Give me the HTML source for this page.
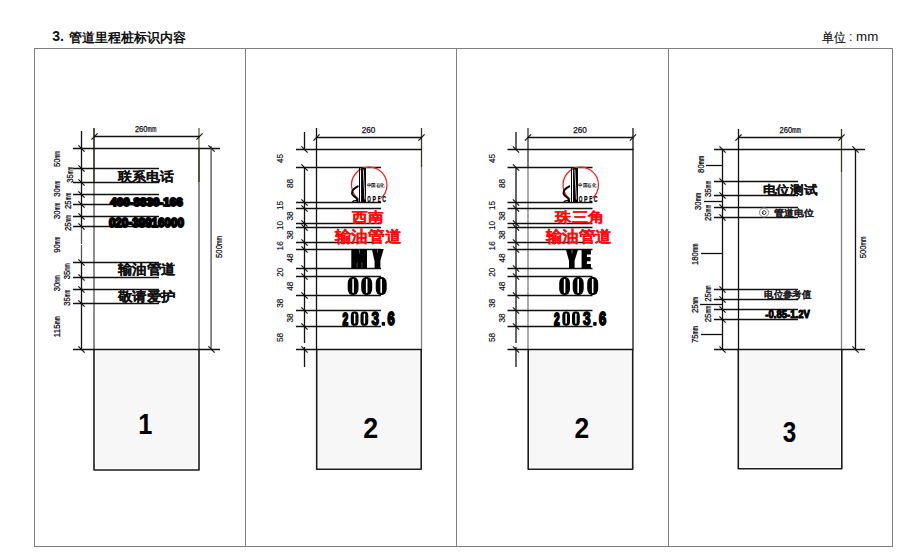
<!DOCTYPE html><html><head><meta charset="utf-8"><style>
html,body{margin:0;padding:0;background:#fff;width:922px;height:560px;overflow:hidden}
svg{display:block;font-family:"Liberation Sans",sans-serif}
</style></head><body>
<svg width="922" height="560" viewBox="0 0 922 560">
<text x="52.2" y="41.4" font-size="14" font-weight="bold" fill="#111">3.</text>
<text x="849" y="41" font-size="12.5" fill="#111">:</text>
<text x="856.1" y="41" font-size="13.3" fill="#111">mm</text>
<g shape-rendering="crispEdges">
<rect x="34.5" y="48.5" width="858" height="498" fill="none" stroke="#7f7f7f" stroke-width="1"/>
<line x1="245.5" y1="48" x2="245.5" y2="546" stroke="#7f7f7f" stroke-width="1"/>
<line x1="456.5" y1="48" x2="456.5" y2="546" stroke="#7f7f7f" stroke-width="1"/>
<line x1="668.5" y1="48" x2="668.5" y2="546" stroke="#7f7f7f" stroke-width="1"/>
</g>
<g>
</g>
<rect x="95.8" y="351" width="101.4" height="117.2" fill="#f7f7f7"/>
<path d="M94.0 349 L94.0 470.0 L199.0 470.0 L199.0 349" fill="none" stroke="#1c1c1c" stroke-width="1.6" stroke-linejoin="round"/>
<g>
<line x1="94" y1="128" x2="94" y2="182" stroke="#2a2618" stroke-width="1.6" shape-rendering="geometricPrecision"/>
<line x1="94" y1="182" x2="94" y2="349" stroke="#707070" stroke-width="1.6" shape-rendering="geometricPrecision"/>
<line x1="199" y1="128" x2="199" y2="148" stroke="#807c66" stroke-width="1.6" shape-rendering="geometricPrecision"/>
<line x1="199" y1="148" x2="199" y2="182" stroke="#2a2618" stroke-width="1.6" shape-rendering="geometricPrecision"/>
<line x1="199" y1="182" x2="199" y2="349" stroke="#707070" stroke-width="1.6" shape-rendering="geometricPrecision"/>
<line x1="94" y1="136.5" x2="200" y2="136.5" stroke="#111" stroke-width="1.3"/>
<line x1="73" y1="148.5" x2="220" y2="148.5" stroke="#111" stroke-width="1.3"/>
<line x1="73" y1="349.5" x2="220" y2="349.5" stroke="#111" stroke-width="1.3"/>
<line x1="81.5" y1="131" x2="81.5" y2="227" stroke="#111" stroke-width="1.3"/>
<line x1="81.5" y1="227" x2="81.5" y2="244" stroke="#555" stroke-width="1.3"/>
<line x1="81.5" y1="245" x2="81.5" y2="263" stroke="#555" stroke-width="1.3"/>
<line x1="81.5" y1="263" x2="81.5" y2="349" stroke="#111" stroke-width="1.3"/>
<line x1="211.1" y1="146" x2="211.1" y2="349.5" stroke="#707070" stroke-width="1.6" shape-rendering="geometricPrecision"/>
<line x1="73" y1="168.5" x2="159" y2="168.5" stroke="#111" stroke-width="1.3"/>
<line x1="73" y1="182.5" x2="159" y2="182.5" stroke="#111" stroke-width="1.3"/>
<line x1="73" y1="194.5" x2="159" y2="194.5" stroke="#111" stroke-width="1.3"/>
<line x1="73" y1="204.5" x2="159" y2="204.5" stroke="#111" stroke-width="1.3"/>
<line x1="73" y1="216.5" x2="159" y2="216.5" stroke="#111" stroke-width="1.3"/>
<line x1="73" y1="226.5" x2="159" y2="226.5" stroke="#111" stroke-width="1.3"/>
<line x1="73" y1="262.5" x2="159" y2="262.5" stroke="#111" stroke-width="1.3"/>
<line x1="73" y1="277.5" x2="159" y2="277.5" stroke="#111" stroke-width="1.3"/>
<line x1="73" y1="289.5" x2="159" y2="289.5" stroke="#111" stroke-width="1.3"/>
<line x1="73" y1="303.5" x2="159" y2="303.5" stroke="#111" stroke-width="1.3"/>
</g>
<line x1="78.4" y1="145.4" x2="84.6" y2="151.6" stroke="#111" stroke-width="1.15"/>
<line x1="78.4" y1="165.4" x2="84.6" y2="171.6" stroke="#111" stroke-width="1.15"/>
<line x1="78.4" y1="179.4" x2="84.6" y2="185.6" stroke="#111" stroke-width="1.15"/>
<line x1="78.4" y1="191.4" x2="84.6" y2="197.6" stroke="#111" stroke-width="1.15"/>
<line x1="78.4" y1="201.4" x2="84.6" y2="207.6" stroke="#111" stroke-width="1.15"/>
<line x1="78.4" y1="213.4" x2="84.6" y2="219.6" stroke="#111" stroke-width="1.15"/>
<line x1="78.4" y1="223.4" x2="84.6" y2="229.6" stroke="#111" stroke-width="1.15"/>
<line x1="78.4" y1="259.4" x2="84.6" y2="265.6" stroke="#111" stroke-width="1.15"/>
<line x1="78.4" y1="274.4" x2="84.6" y2="280.6" stroke="#111" stroke-width="1.15"/>
<line x1="78.4" y1="286.4" x2="84.6" y2="292.6" stroke="#111" stroke-width="1.15"/>
<line x1="78.4" y1="300.4" x2="84.6" y2="306.6" stroke="#111" stroke-width="1.15"/>
<line x1="78.4" y1="346.4" x2="84.6" y2="352.6" stroke="#111" stroke-width="1.15"/>
<line x1="208.4" y1="145.4" x2="214.6" y2="151.6" stroke="#111" stroke-width="1.15"/>
<line x1="208.4" y1="346.4" x2="214.6" y2="352.6" stroke="#111" stroke-width="1.15"/>
<line x1="91.4" y1="139.6" x2="97.6" y2="133.4" stroke="#111" stroke-width="1.15"/>
<line x1="196.4" y1="139.6" x2="202.6" y2="133.4" stroke="#111" stroke-width="1.15"/>
<text x="134.9" y="132.1" font-size="8.6" textLength="12.60" lengthAdjust="spacingAndGlyphs" fill="#0a0a14" stroke="#0a0a14" stroke-width="0.25">260</text>
<text x="147.50" y="132.1" font-size="8.6" font-weight="bold" textLength="9" lengthAdjust="spacingAndGlyphs" fill="#0a0a14">mm</text>
<g transform="translate(221.9 257.95) rotate(-90)"><text x="0" y="0" font-size="8.4" textLength="12.90" lengthAdjust="spacingAndGlyphs" fill="#0a0a14" stroke="#0a0a14" stroke-width="0.25">500</text><text x="12.90" y="0" font-size="8.4" font-weight="bold" textLength="9.00" lengthAdjust="spacingAndGlyphs" fill="#0a0a14">mm</text></g>
<g transform="translate(60 167.05) rotate(-90)"><text x="0" y="0" font-size="8.4" textLength="8.60" lengthAdjust="spacingAndGlyphs" fill="#0a0a14" stroke="#0a0a14" stroke-width="0.25">50</text><text x="8.60" y="0" font-size="8.4" font-weight="bold" textLength="7.50" lengthAdjust="spacingAndGlyphs" fill="#0a0a14">mm</text></g>
<g transform="translate(60 196.85) rotate(-90)"><text x="0" y="0" font-size="8.4" textLength="8.60" lengthAdjust="spacingAndGlyphs" fill="#0a0a14" stroke="#0a0a14" stroke-width="0.25">30</text><text x="8.60" y="0" font-size="8.4" font-weight="bold" textLength="7.50" lengthAdjust="spacingAndGlyphs" fill="#0a0a14">mm</text></g>
<g transform="translate(60 218.95) rotate(-90)"><text x="0" y="0" font-size="8.4" textLength="8.60" lengthAdjust="spacingAndGlyphs" fill="#0a0a14" stroke="#0a0a14" stroke-width="0.25">30</text><text x="8.60" y="0" font-size="8.4" font-weight="bold" textLength="7.50" lengthAdjust="spacingAndGlyphs" fill="#0a0a14">mm</text></g>
<g transform="translate(59.6 252.85) rotate(-90)"><text x="0" y="0" font-size="8.4" textLength="8.60" lengthAdjust="spacingAndGlyphs" fill="#0a0a14" stroke="#0a0a14" stroke-width="0.25">90</text><text x="8.60" y="0" font-size="8.4" font-weight="bold" textLength="7.50" lengthAdjust="spacingAndGlyphs" fill="#0a0a14">mm</text></g>
<g transform="translate(60.2 291.35) rotate(-90)"><text x="0" y="0" font-size="8.4" textLength="8.60" lengthAdjust="spacingAndGlyphs" fill="#0a0a14" stroke="#0a0a14" stroke-width="0.25">30</text><text x="8.60" y="0" font-size="8.4" font-weight="bold" textLength="7.50" lengthAdjust="spacingAndGlyphs" fill="#0a0a14">mm</text></g>
<g transform="translate(60.3 337.25) rotate(-90)"><text x="0" y="0" font-size="8.4" textLength="12.90" lengthAdjust="spacingAndGlyphs" fill="#0a0a14" stroke="#0a0a14" stroke-width="0.25">115</text><text x="12.90" y="0" font-size="8.4" font-weight="bold" textLength="8.00" lengthAdjust="spacingAndGlyphs" fill="#0a0a14">mm</text></g>
<g transform="translate(73.4 182.85) rotate(-90)"><text x="0" y="0" font-size="8.4" textLength="8.60" lengthAdjust="spacingAndGlyphs" fill="#0a0a14" stroke="#0a0a14" stroke-width="0.25">35</text><text x="8.60" y="0" font-size="8.4" font-weight="bold" textLength="7.50" lengthAdjust="spacingAndGlyphs" fill="#0a0a14">mm</text></g>
<g transform="translate(71.4 208.95) rotate(-90)"><text x="0" y="0" font-size="8.4" textLength="8.60" lengthAdjust="spacingAndGlyphs" fill="#0a0a14" stroke="#0a0a14" stroke-width="0.25">25</text><text x="8.60" y="0" font-size="8.4" font-weight="bold" textLength="7.50" lengthAdjust="spacingAndGlyphs" fill="#0a0a14">mm</text></g>
<g transform="translate(71.4 231.05) rotate(-90)"><text x="0" y="0" font-size="8.4" textLength="8.60" lengthAdjust="spacingAndGlyphs" fill="#0a0a14" stroke="#0a0a14" stroke-width="0.25">25</text><text x="8.60" y="0" font-size="8.4" font-weight="bold" textLength="7.50" lengthAdjust="spacingAndGlyphs" fill="#0a0a14">mm</text></g>
<g transform="translate(69.5 279.25) rotate(-90)"><text x="0" y="0" font-size="8.4" textLength="8.60" lengthAdjust="spacingAndGlyphs" fill="#0a0a14" stroke="#0a0a14" stroke-width="0.25">35</text><text x="8.60" y="0" font-size="8.4" font-weight="bold" textLength="7.50" lengthAdjust="spacingAndGlyphs" fill="#0a0a14">mm</text></g>
<g transform="translate(69.5 305.75) rotate(-90)"><text x="0" y="0" font-size="8.4" textLength="8.60" lengthAdjust="spacingAndGlyphs" fill="#0a0a14" stroke="#0a0a14" stroke-width="0.25">35</text><text x="8.60" y="0" font-size="8.4" font-weight="bold" textLength="7.50" lengthAdjust="spacingAndGlyphs" fill="#0a0a14">mm</text></g>
<g transform="translate(0 0)">
<g>
</g>
<rect x="318.5" y="351" width="100.9" height="116.50000000000001" fill="#f7f7f7"/>
<path d="M316.7 349 L316.7 469.3 L421.2 469.3 L421.2 349" fill="none" stroke="#1c1c1c" stroke-width="1.6" stroke-linejoin="round"/>
<g>
<line x1="316.5" y1="128" x2="316.5" y2="349" stroke="#111" stroke-width="1.3"/>
<line x1="421.5" y1="128" x2="421.5" y2="167" stroke="#3a3626" stroke-width="1.3"/>
<line x1="421.5" y1="167" x2="421.5" y2="349" stroke="#7f7f7f" stroke-width="1.3"/>
<line x1="316" y1="137.5" x2="422" y2="137.5" stroke="#111" stroke-width="1.3"/>
<line x1="296" y1="149.5" x2="422" y2="149.5" stroke="#111" stroke-width="1.3"/>
<line x1="296" y1="349.5" x2="422" y2="349.5" stroke="#111" stroke-width="1.3"/>
<line x1="304.5" y1="132" x2="304.5" y2="149.5" stroke="#111" stroke-width="1.3"/>
<line x1="304.5" y1="167" x2="304.5" y2="343" stroke="#111" stroke-width="1.3"/>
<line x1="304.5" y1="347" x2="304.5" y2="367" stroke="#111" stroke-width="1.3"/>
<line x1="296" y1="167.5" x2="381" y2="167.5" stroke="#111" stroke-width="1.3"/>
<line x1="296" y1="202.5" x2="381" y2="202.5" stroke="#111" stroke-width="1.3"/>
<line x1="296" y1="208.5" x2="381" y2="208.5" stroke="#111" stroke-width="1.3"/>
<line x1="296" y1="223.5" x2="381" y2="223.5" stroke="#111" stroke-width="1.3"/>
<line x1="296" y1="227.5" x2="381" y2="227.5" stroke="#111" stroke-width="1.3"/>
<line x1="296" y1="242.5" x2="381" y2="242.5" stroke="#111" stroke-width="1.3"/>
<line x1="296" y1="249.5" x2="381" y2="249.5" stroke="#111" stroke-width="1.3"/>
<line x1="296" y1="268.5" x2="381" y2="268.5" stroke="#111" stroke-width="1.3"/>
<line x1="296" y1="276.5" x2="381" y2="276.5" stroke="#111" stroke-width="1.3"/>
<line x1="296" y1="295.5" x2="381" y2="295.5" stroke="#111" stroke-width="1.3"/>
<line x1="296" y1="310.5" x2="381" y2="310.5" stroke="#111" stroke-width="1.3"/>
<line x1="296" y1="326.5" x2="381" y2="326.5" stroke="#111" stroke-width="1.3"/>
</g>
<line x1="301.4" y1="146.4" x2="307.6" y2="152.6" stroke="#111" stroke-width="1.15"/>
<line x1="301.4" y1="164.4" x2="307.6" y2="170.6" stroke="#111" stroke-width="1.15"/>
<line x1="301.4" y1="199.4" x2="307.6" y2="205.6" stroke="#111" stroke-width="1.15"/>
<line x1="301.4" y1="205.4" x2="307.6" y2="211.6" stroke="#111" stroke-width="1.15"/>
<line x1="301.4" y1="220.4" x2="307.6" y2="226.6" stroke="#111" stroke-width="1.15"/>
<line x1="301.4" y1="224.4" x2="307.6" y2="230.6" stroke="#111" stroke-width="1.15"/>
<line x1="301.4" y1="239.4" x2="307.6" y2="245.6" stroke="#111" stroke-width="1.15"/>
<line x1="301.4" y1="246.4" x2="307.6" y2="252.6" stroke="#111" stroke-width="1.15"/>
<line x1="301.4" y1="265.4" x2="307.6" y2="271.6" stroke="#111" stroke-width="1.15"/>
<line x1="301.4" y1="273.4" x2="307.6" y2="279.6" stroke="#111" stroke-width="1.15"/>
<line x1="301.4" y1="292.4" x2="307.6" y2="298.6" stroke="#111" stroke-width="1.15"/>
<line x1="301.4" y1="307.4" x2="307.6" y2="313.6" stroke="#111" stroke-width="1.15"/>
<line x1="301.4" y1="323.4" x2="307.6" y2="329.6" stroke="#111" stroke-width="1.15"/>
<line x1="301.4" y1="346.4" x2="307.6" y2="352.6" stroke="#111" stroke-width="1.15"/>
<line x1="313.4" y1="140.6" x2="319.6" y2="134.4" stroke="#111" stroke-width="1.15"/>
<line x1="418.4" y1="140.6" x2="424.6" y2="134.4" stroke="#111" stroke-width="1.15"/>
<text x="361.8" y="132.9" font-size="8.6" textLength="13.50" lengthAdjust="spacingAndGlyphs" fill="#0a0a14" stroke="#0a0a14" stroke-width="0.25">260</text>
<g transform="translate(283.1 163.10) rotate(-90)"><text x="0" y="0" font-size="8.8" textLength="9.20" lengthAdjust="spacingAndGlyphs" fill="#0a0a14" stroke="#0a0a14" stroke-width="0.15">45</text></g>
<g transform="translate(283.1 210.10) rotate(-90)"><text x="0" y="0" font-size="8.8" textLength="9.20" lengthAdjust="spacingAndGlyphs" fill="#0a0a14" stroke="#0a0a14" stroke-width="0.15">15</text></g>
<g transform="translate(283.1 230.00) rotate(-90)"><text x="0" y="0" font-size="8.8" textLength="9.20" lengthAdjust="spacingAndGlyphs" fill="#0a0a14" stroke="#0a0a14" stroke-width="0.15">10</text></g>
<g transform="translate(283.1 250.40) rotate(-90)"><text x="0" y="0" font-size="8.8" textLength="9.20" lengthAdjust="spacingAndGlyphs" fill="#0a0a14" stroke="#0a0a14" stroke-width="0.15">16</text></g>
<g transform="translate(283.1 276.80) rotate(-90)"><text x="0" y="0" font-size="8.8" textLength="9.20" lengthAdjust="spacingAndGlyphs" fill="#0a0a14" stroke="#0a0a14" stroke-width="0.15">20</text></g>
<g transform="translate(283.1 307.80) rotate(-90)"><text x="0" y="0" font-size="8.8" textLength="9.20" lengthAdjust="spacingAndGlyphs" fill="#0a0a14" stroke="#0a0a14" stroke-width="0.15">38</text></g>
<g transform="translate(283.1 342.00) rotate(-90)"><text x="0" y="0" font-size="8.8" textLength="9.20" lengthAdjust="spacingAndGlyphs" fill="#0a0a14" stroke="#0a0a14" stroke-width="0.15">58</text></g>
<g transform="translate(293.4 188.10) rotate(-90)"><text x="0" y="0" font-size="8.8" textLength="9.20" lengthAdjust="spacingAndGlyphs" fill="#0a0a14" stroke="#0a0a14" stroke-width="0.15">88</text></g>
<g transform="translate(293.4 220.60) rotate(-90)"><text x="0" y="0" font-size="8.8" textLength="9.20" lengthAdjust="spacingAndGlyphs" fill="#0a0a14" stroke="#0a0a14" stroke-width="0.15">38</text></g>
<g transform="translate(293.4 239.60) rotate(-90)"><text x="0" y="0" font-size="8.8" textLength="9.20" lengthAdjust="spacingAndGlyphs" fill="#0a0a14" stroke="#0a0a14" stroke-width="0.15">38</text></g>
<g transform="translate(293.4 262.60) rotate(-90)"><text x="0" y="0" font-size="8.8" textLength="9.20" lengthAdjust="spacingAndGlyphs" fill="#0a0a14" stroke="#0a0a14" stroke-width="0.15">48</text></g>
<g transform="translate(293.4 290.80) rotate(-90)"><text x="0" y="0" font-size="8.8" textLength="9.20" lengthAdjust="spacingAndGlyphs" fill="#0a0a14" stroke="#0a0a14" stroke-width="0.15">48</text></g>
<g transform="translate(293.4 322.60) rotate(-90)"><text x="0" y="0" font-size="8.8" textLength="9.20" lengthAdjust="spacingAndGlyphs" fill="#0a0a14" stroke="#0a0a14" stroke-width="0.15">38</text></g>
<path d="M 358.8 199.2 A 17.7 17.7 0 1 1 381.04 198.05" fill="none" stroke="#f52020" stroke-width="1.25"/>
<g shape-rendering="crispEdges"><rect x="359" y="167.5" width="1.2" height="34" fill="#000"/>
<rect x="361" y="167.5" width="1" height="34" fill="#111"/>
<rect x="362" y="167.5" width="4" height="34" fill="#000"/></g>
<line x1="363.3" y1="169.5" x2="364.9" y2="199.5" stroke="#fff" stroke-width="0.8"/>
<path d="M357.8 186.4 C354.5 188 351.6 190.5 352 193.6 C352.4 196.2 356.6 197.2 357.3 199.6 L357.6 201.2" fill="none" stroke="#000" stroke-width="2.0" stroke-linecap="round"/>
<path d="M352.3 201.8 Q354.8 199.8 358.2 201.3" fill="none" stroke="#000" stroke-width="1.3"/>
<text x="367.2" y="202.1" font-size="9.4" font-weight="bold" textLength="3.6" lengthAdjust="spacingAndGlyphs" fill="#000" stroke="#000" stroke-width="0.25">O</text>
<text x="372.5" y="202.1" font-size="9.4" font-weight="bold" textLength="3.5" lengthAdjust="spacingAndGlyphs" fill="#000" stroke="#000" stroke-width="0.25">P</text>
<text x="377.8" y="202.1" font-size="9.4" font-weight="bold" textLength="3.0" lengthAdjust="spacingAndGlyphs" fill="#000" stroke="#000" stroke-width="0.25">E</text>
<text x="382.2" y="202.1" font-size="9.4" font-weight="bold" textLength="3.8" lengthAdjust="spacingAndGlyphs" fill="#000" stroke="#000" stroke-width="0.25">C</text>
<text x="366.6" y="186.5" font-size="5" textLength="18" lengthAdjust="spacingAndGlyphs" fill="#000" stroke="#000" stroke-width="0.12">中国石化</text>
</g>
<g transform="translate(211.5 0)">
<g>
</g>
<rect x="318.5" y="351" width="100.9" height="116.50000000000001" fill="#f7f7f7"/>
<path d="M316.7 349 L316.7 469.3 L421.2 469.3 L421.2 349" fill="none" stroke="#1c1c1c" stroke-width="1.6" stroke-linejoin="round"/>
<g>
<line x1="316.5" y1="128" x2="316.5" y2="167" stroke="#3a3626" stroke-width="1.3"/>
<line x1="316.5" y1="167" x2="316.5" y2="349" stroke="#7f7f7f" stroke-width="1.3"/>
<line x1="421.5" y1="128" x2="421.5" y2="349" stroke="#111" stroke-width="1.3"/>
<line x1="316" y1="137.5" x2="422" y2="137.5" stroke="#111" stroke-width="1.3"/>
<line x1="296" y1="149.5" x2="422" y2="149.5" stroke="#111" stroke-width="1.3"/>
<line x1="296" y1="349.5" x2="422" y2="349.5" stroke="#111" stroke-width="1.3"/>
<line x1="304.5" y1="132" x2="304.5" y2="149.5" stroke="#111" stroke-width="1.3"/>
<line x1="304.5" y1="167" x2="304.5" y2="343" stroke="#111" stroke-width="1.3"/>
<line x1="304.5" y1="347" x2="304.5" y2="367" stroke="#111" stroke-width="1.3"/>
<line x1="296" y1="167.5" x2="381" y2="167.5" stroke="#111" stroke-width="1.3"/>
<line x1="296" y1="202.5" x2="381" y2="202.5" stroke="#111" stroke-width="1.3"/>
<line x1="296" y1="208.5" x2="381" y2="208.5" stroke="#111" stroke-width="1.3"/>
<line x1="296" y1="223.5" x2="381" y2="223.5" stroke="#111" stroke-width="1.3"/>
<line x1="296" y1="227.5" x2="381" y2="227.5" stroke="#111" stroke-width="1.3"/>
<line x1="296" y1="242.5" x2="381" y2="242.5" stroke="#111" stroke-width="1.3"/>
<line x1="296" y1="249.5" x2="381" y2="249.5" stroke="#111" stroke-width="1.3"/>
<line x1="296" y1="268.5" x2="381" y2="268.5" stroke="#111" stroke-width="1.3"/>
<line x1="296" y1="276.5" x2="381" y2="276.5" stroke="#111" stroke-width="1.3"/>
<line x1="296" y1="295.5" x2="381" y2="295.5" stroke="#111" stroke-width="1.3"/>
<line x1="296" y1="310.5" x2="381" y2="310.5" stroke="#111" stroke-width="1.3"/>
<line x1="296" y1="326.5" x2="381" y2="326.5" stroke="#111" stroke-width="1.3"/>
</g>
<line x1="301.4" y1="146.4" x2="307.6" y2="152.6" stroke="#111" stroke-width="1.15"/>
<line x1="301.4" y1="164.4" x2="307.6" y2="170.6" stroke="#111" stroke-width="1.15"/>
<line x1="301.4" y1="199.4" x2="307.6" y2="205.6" stroke="#111" stroke-width="1.15"/>
<line x1="301.4" y1="205.4" x2="307.6" y2="211.6" stroke="#111" stroke-width="1.15"/>
<line x1="301.4" y1="220.4" x2="307.6" y2="226.6" stroke="#111" stroke-width="1.15"/>
<line x1="301.4" y1="224.4" x2="307.6" y2="230.6" stroke="#111" stroke-width="1.15"/>
<line x1="301.4" y1="239.4" x2="307.6" y2="245.6" stroke="#111" stroke-width="1.15"/>
<line x1="301.4" y1="246.4" x2="307.6" y2="252.6" stroke="#111" stroke-width="1.15"/>
<line x1="301.4" y1="265.4" x2="307.6" y2="271.6" stroke="#111" stroke-width="1.15"/>
<line x1="301.4" y1="273.4" x2="307.6" y2="279.6" stroke="#111" stroke-width="1.15"/>
<line x1="301.4" y1="292.4" x2="307.6" y2="298.6" stroke="#111" stroke-width="1.15"/>
<line x1="301.4" y1="307.4" x2="307.6" y2="313.6" stroke="#111" stroke-width="1.15"/>
<line x1="301.4" y1="323.4" x2="307.6" y2="329.6" stroke="#111" stroke-width="1.15"/>
<line x1="301.4" y1="346.4" x2="307.6" y2="352.6" stroke="#111" stroke-width="1.15"/>
<line x1="313.4" y1="140.6" x2="319.6" y2="134.4" stroke="#111" stroke-width="1.15"/>
<line x1="418.4" y1="140.6" x2="424.6" y2="134.4" stroke="#111" stroke-width="1.15"/>
<text x="361.8" y="132.9" font-size="8.6" textLength="13.50" lengthAdjust="spacingAndGlyphs" fill="#0a0a14" stroke="#0a0a14" stroke-width="0.25">260</text>
<g transform="translate(283.1 163.10) rotate(-90)"><text x="0" y="0" font-size="8.8" textLength="9.20" lengthAdjust="spacingAndGlyphs" fill="#0a0a14" stroke="#0a0a14" stroke-width="0.15">45</text></g>
<g transform="translate(283.1 210.10) rotate(-90)"><text x="0" y="0" font-size="8.8" textLength="9.20" lengthAdjust="spacingAndGlyphs" fill="#0a0a14" stroke="#0a0a14" stroke-width="0.15">15</text></g>
<g transform="translate(283.1 230.00) rotate(-90)"><text x="0" y="0" font-size="8.8" textLength="9.20" lengthAdjust="spacingAndGlyphs" fill="#0a0a14" stroke="#0a0a14" stroke-width="0.15">10</text></g>
<g transform="translate(283.1 250.40) rotate(-90)"><text x="0" y="0" font-size="8.8" textLength="9.20" lengthAdjust="spacingAndGlyphs" fill="#0a0a14" stroke="#0a0a14" stroke-width="0.15">16</text></g>
<g transform="translate(283.1 276.80) rotate(-90)"><text x="0" y="0" font-size="8.8" textLength="9.20" lengthAdjust="spacingAndGlyphs" fill="#0a0a14" stroke="#0a0a14" stroke-width="0.15">20</text></g>
<g transform="translate(283.1 307.80) rotate(-90)"><text x="0" y="0" font-size="8.8" textLength="9.20" lengthAdjust="spacingAndGlyphs" fill="#0a0a14" stroke="#0a0a14" stroke-width="0.15">38</text></g>
<g transform="translate(283.1 342.00) rotate(-90)"><text x="0" y="0" font-size="8.8" textLength="9.20" lengthAdjust="spacingAndGlyphs" fill="#0a0a14" stroke="#0a0a14" stroke-width="0.15">58</text></g>
<g transform="translate(293.4 188.10) rotate(-90)"><text x="0" y="0" font-size="8.8" textLength="9.20" lengthAdjust="spacingAndGlyphs" fill="#0a0a14" stroke="#0a0a14" stroke-width="0.15">88</text></g>
<g transform="translate(293.4 220.60) rotate(-90)"><text x="0" y="0" font-size="8.8" textLength="9.20" lengthAdjust="spacingAndGlyphs" fill="#0a0a14" stroke="#0a0a14" stroke-width="0.15">38</text></g>
<g transform="translate(293.4 239.60) rotate(-90)"><text x="0" y="0" font-size="8.8" textLength="9.20" lengthAdjust="spacingAndGlyphs" fill="#0a0a14" stroke="#0a0a14" stroke-width="0.15">38</text></g>
<g transform="translate(293.4 262.60) rotate(-90)"><text x="0" y="0" font-size="8.8" textLength="9.20" lengthAdjust="spacingAndGlyphs" fill="#0a0a14" stroke="#0a0a14" stroke-width="0.15">48</text></g>
<g transform="translate(293.4 290.80) rotate(-90)"><text x="0" y="0" font-size="8.8" textLength="9.20" lengthAdjust="spacingAndGlyphs" fill="#0a0a14" stroke="#0a0a14" stroke-width="0.15">48</text></g>
<g transform="translate(293.4 322.60) rotate(-90)"><text x="0" y="0" font-size="8.8" textLength="9.20" lengthAdjust="spacingAndGlyphs" fill="#0a0a14" stroke="#0a0a14" stroke-width="0.15">38</text></g>
<path d="M 358.8 199.2 A 17.7 17.7 0 1 1 381.04 198.05" fill="none" stroke="#f52020" stroke-width="1.25"/>
<g shape-rendering="crispEdges"><rect x="359" y="167.5" width="1.2" height="34" fill="#000"/>
<rect x="361" y="167.5" width="1" height="34" fill="#111"/>
<rect x="362" y="167.5" width="4" height="34" fill="#000"/></g>
<line x1="363.3" y1="169.5" x2="364.9" y2="199.5" stroke="#fff" stroke-width="0.8"/>
<path d="M357.8 186.4 C354.5 188 351.6 190.5 352 193.6 C352.4 196.2 356.6 197.2 357.3 199.6 L357.6 201.2" fill="none" stroke="#000" stroke-width="2.0" stroke-linecap="round"/>
<path d="M352.3 201.8 Q354.8 199.8 358.2 201.3" fill="none" stroke="#000" stroke-width="1.3"/>
<text x="367.2" y="202.1" font-size="9.4" font-weight="bold" textLength="3.6" lengthAdjust="spacingAndGlyphs" fill="#000" stroke="#000" stroke-width="0.25">O</text>
<text x="372.5" y="202.1" font-size="9.4" font-weight="bold" textLength="3.5" lengthAdjust="spacingAndGlyphs" fill="#000" stroke="#000" stroke-width="0.25">P</text>
<text x="377.8" y="202.1" font-size="9.4" font-weight="bold" textLength="3.0" lengthAdjust="spacingAndGlyphs" fill="#000" stroke="#000" stroke-width="0.25">E</text>
<text x="382.2" y="202.1" font-size="9.4" font-weight="bold" textLength="3.8" lengthAdjust="spacingAndGlyphs" fill="#000" stroke="#000" stroke-width="0.25">C</text>
<text x="366.6" y="186.5" font-size="5" textLength="18" lengthAdjust="spacingAndGlyphs" fill="#000" stroke="#000" stroke-width="0.12">中国石化</text>
</g>
<g>
</g>
<rect x="740.0999999999999" y="351" width="99.9" height="116.00000000000001" fill="#f7f7f7"/>
<path d="M738.3 349 L738.3 468.8 L841.8 468.8 L841.8 349" fill="none" stroke="#1c1c1c" stroke-width="1.6" stroke-linejoin="round"/>
<g>
<line x1="738.5" y1="129" x2="738.5" y2="349" stroke="#111" stroke-width="1.3"/>
<line x1="841.5" y1="129" x2="841.5" y2="172" stroke="#3a3626" stroke-width="1.3"/>
<line x1="841.5" y1="172" x2="841.5" y2="349" stroke="#7f7f7f" stroke-width="1.3"/>
<line x1="738" y1="137.5" x2="842" y2="137.5" stroke="#111" stroke-width="1.3"/>
<line x1="714" y1="149.5" x2="865" y2="149.5" stroke="#111" stroke-width="1.3"/>
<line x1="714" y1="349.5" x2="865" y2="349.5" stroke="#111" stroke-width="1.3"/>
<line x1="722.5" y1="149" x2="722.5" y2="349" stroke="#111" stroke-width="1.3"/>
<line x1="855.5" y1="149" x2="855.5" y2="349" stroke="#111" stroke-width="1.3"/>
<line x1="714" y1="181.5" x2="798" y2="181.5" stroke="#111" stroke-width="1.3"/>
<line x1="714" y1="195.5" x2="798" y2="195.5" stroke="#111" stroke-width="1.3"/>
<line x1="714" y1="207.5" x2="798" y2="207.5" stroke="#111" stroke-width="1.3"/>
<line x1="714" y1="217.5" x2="798" y2="217.5" stroke="#111" stroke-width="1.3"/>
<line x1="714" y1="289.5" x2="798" y2="289.5" stroke="#111" stroke-width="1.3"/>
<line x1="714" y1="299.5" x2="798" y2="299.5" stroke="#111" stroke-width="1.3"/>
<line x1="714" y1="309.5" x2="798" y2="309.5" stroke="#111" stroke-width="1.3"/>
<line x1="714" y1="319.5" x2="798" y2="319.5" stroke="#111" stroke-width="1.3"/>
<line x1="706" y1="165.5" x2="722" y2="165.5" stroke="#111" stroke-width="1.3"/>
<line x1="704" y1="201.5" x2="722" y2="201.5" stroke="#111" stroke-width="1.3"/>
<line x1="701" y1="253.5" x2="722" y2="253.5" stroke="#111" stroke-width="1.3"/>
<line x1="700" y1="304.5" x2="722" y2="304.5" stroke="#111" stroke-width="1.3"/>
<line x1="701" y1="334.5" x2="722" y2="334.5" stroke="#111" stroke-width="1.3"/>
</g>
<line x1="719.4" y1="146.4" x2="725.6" y2="152.6" stroke="#111" stroke-width="1.15"/>
<line x1="719.4" y1="178.4" x2="725.6" y2="184.6" stroke="#111" stroke-width="1.15"/>
<line x1="719.4" y1="192.4" x2="725.6" y2="198.6" stroke="#111" stroke-width="1.15"/>
<line x1="719.4" y1="204.4" x2="725.6" y2="210.6" stroke="#111" stroke-width="1.15"/>
<line x1="719.4" y1="214.4" x2="725.6" y2="220.6" stroke="#111" stroke-width="1.15"/>
<line x1="719.4" y1="286.4" x2="725.6" y2="292.6" stroke="#111" stroke-width="1.15"/>
<line x1="719.4" y1="296.4" x2="725.6" y2="302.6" stroke="#111" stroke-width="1.15"/>
<line x1="719.4" y1="306.4" x2="725.6" y2="312.6" stroke="#111" stroke-width="1.15"/>
<line x1="719.4" y1="316.4" x2="725.6" y2="322.6" stroke="#111" stroke-width="1.15"/>
<line x1="719.4" y1="346.4" x2="725.6" y2="352.6" stroke="#111" stroke-width="1.15"/>
<line x1="852.4" y1="146.4" x2="858.6" y2="152.6" stroke="#111" stroke-width="1.15"/>
<line x1="852.4" y1="346.4" x2="858.6" y2="352.6" stroke="#111" stroke-width="1.15"/>
<line x1="735.4" y1="140.6" x2="741.6" y2="134.4" stroke="#111" stroke-width="1.15"/>
<line x1="838.4" y1="140.6" x2="844.6" y2="134.4" stroke="#111" stroke-width="1.15"/>
<text x="779.5" y="133.3" font-size="8.6" textLength="12.60" lengthAdjust="spacingAndGlyphs" fill="#0a0a14" stroke="#0a0a14" stroke-width="0.25">260</text>
<text x="792.10" y="133.3" font-size="8.6" font-weight="bold" textLength="9" lengthAdjust="spacingAndGlyphs" fill="#0a0a14">mm</text>
<g transform="translate(866 258.35) rotate(-90)"><text x="0" y="0" font-size="8.4" textLength="12.90" lengthAdjust="spacingAndGlyphs" fill="#0a0a14" stroke="#0a0a14" stroke-width="0.25">500</text><text x="12.90" y="0" font-size="8.4" font-weight="bold" textLength="9.00" lengthAdjust="spacingAndGlyphs" fill="#0a0a14">mm</text></g>
<g transform="translate(703.6 172.90) rotate(-90)"><text x="0" y="0" font-size="8.4" textLength="8.60" lengthAdjust="spacingAndGlyphs" fill="#0a0a14" stroke="#0a0a14" stroke-width="0.25">80</text><text x="8.60" y="0" font-size="8.4" font-weight="bold" textLength="8.60" lengthAdjust="spacingAndGlyphs" fill="#0a0a14">mm</text></g>
<g transform="translate(701.4 209.95) rotate(-90)"><text x="0" y="0" font-size="8.4" textLength="8.60" lengthAdjust="spacingAndGlyphs" fill="#0a0a14" stroke="#0a0a14" stroke-width="0.25">30</text><text x="8.60" y="0" font-size="8.4" font-weight="bold" textLength="8.50" lengthAdjust="spacingAndGlyphs" fill="#0a0a14">mm</text></g>
<g transform="translate(697.8 265.00) rotate(-90)"><text x="0" y="0" font-size="8.4" textLength="12.90" lengthAdjust="spacingAndGlyphs" fill="#0a0a14" stroke="#0a0a14" stroke-width="0.25">180</text><text x="12.90" y="0" font-size="8.4" font-weight="bold" textLength="8.50" lengthAdjust="spacingAndGlyphs" fill="#0a0a14">mm</text></g>
<g transform="translate(697.8 313.00) rotate(-90)"><text x="0" y="0" font-size="8.4" textLength="8.60" lengthAdjust="spacingAndGlyphs" fill="#0a0a14" stroke="#0a0a14" stroke-width="0.25">25</text><text x="8.60" y="0" font-size="8.4" font-weight="bold" textLength="7.40" lengthAdjust="spacingAndGlyphs" fill="#0a0a14">mm</text></g>
<g transform="translate(697.8 343.00) rotate(-90)"><text x="0" y="0" font-size="8.4" textLength="8.60" lengthAdjust="spacingAndGlyphs" fill="#0a0a14" stroke="#0a0a14" stroke-width="0.25">75</text><text x="8.60" y="0" font-size="8.4" font-weight="bold" textLength="8.40" lengthAdjust="spacingAndGlyphs" fill="#0a0a14">mm</text></g>
<g transform="translate(711.4 197.10) rotate(-90)"><text x="0" y="0" font-size="8.4" textLength="8.60" lengthAdjust="spacingAndGlyphs" fill="#0a0a14" stroke="#0a0a14" stroke-width="0.25">35</text><text x="8.60" y="0" font-size="8.4" font-weight="bold" textLength="7.80" lengthAdjust="spacingAndGlyphs" fill="#0a0a14">mm</text></g>
<g transform="translate(711.4 221.10) rotate(-90)"><text x="0" y="0" font-size="8.4" textLength="8.60" lengthAdjust="spacingAndGlyphs" fill="#0a0a14" stroke="#0a0a14" stroke-width="0.25">25</text><text x="8.60" y="0" font-size="8.4" font-weight="bold" textLength="7.80" lengthAdjust="spacingAndGlyphs" fill="#0a0a14">mm</text></g>
<g transform="translate(711 301.70) rotate(-90)"><text x="0" y="0" font-size="8.4" textLength="8.60" lengthAdjust="spacingAndGlyphs" fill="#0a0a14" stroke="#0a0a14" stroke-width="0.25">25</text><text x="8.60" y="0" font-size="8.4" font-weight="bold" textLength="7.80" lengthAdjust="spacingAndGlyphs" fill="#0a0a14">mm</text></g>
<g transform="translate(711 322.20) rotate(-90)"><text x="0" y="0" font-size="8.4" textLength="8.60" lengthAdjust="spacingAndGlyphs" fill="#0a0a14" stroke="#0a0a14" stroke-width="0.25">25</text><text x="8.60" y="0" font-size="8.4" font-weight="bold" textLength="7.80" lengthAdjust="spacingAndGlyphs" fill="#0a0a14">mm</text></g>
<circle cx="764.0" cy="212.5" r="4.5" fill="none" stroke="#8a8a8a" stroke-width="1.0"/>
<circle cx="764.1" cy="212.6" r="1.9" fill="none" stroke="#2a2a2a" stroke-width="0.9"/>
<circle cx="763.0" cy="212.9" r="0.7" fill="#000"/>
<g transform="translate(0 0)">
<rect x="351.3" y="249.1" width="15.7" height="19.3" fill="#000"/>
<line x1="359.3" y1="249.6" x2="359.3" y2="253.4" stroke="#fff" stroke-width="0.6" opacity="0.8"/>
<path d="M357.3 262.5 Q356.6 265 357.2 267.6 M361.7 262.5 Q362.4 265 361.8 267.6" fill="none" stroke="#fff" stroke-width="0.5" opacity="0.6"/>
<path d="M371.9 249.1 L383.7 249.1 L380.4 260.4 L380.4 268.4 L374.6 268.4 L374.6 261.6 Z" fill="#000"/>
<line x1="377.4" y1="249.6" x2="377.4" y2="252.6" stroke="#fff" stroke-width="0.6" opacity="0.8"/>
</g>
<path d="M565.8 249.2 L578.1 249.2 L574.6 260.8 L574.6 268.2 L569 268.2 L569 260.8 Z" fill="#000"/>
<line x1="572" y1="249.7" x2="572" y2="253.5" stroke="#fff" stroke-width="0.6" opacity="0.8"/>
<path d="M581.6 249.2 L590.9 249.2 L590.9 254.6 L586.9 254.6 L586.9 256.9 L590.6 256.9 L590.6 261.3 L586.9 261.3 L586.9 264.1 L590.9 264.1 L590.9 268.2 L581.6 268.2 Z" fill="#000"/>
<rect x="347.7" y="277.1" width="10.80" height="17.80" rx="4.59" ry="5.94" fill="#000"/>
<rect x="352.30" y="278.85" width="1.6" height="14.3" rx="0.80" ry="0.80" fill="#fff"/>
<rect x="361.2" y="277.1" width="11.00" height="17.80" rx="4.67" ry="6.05" fill="#000"/>
<rect x="365.90" y="278.85" width="1.6" height="14.3" rx="0.80" ry="0.80" fill="#fff"/>
<rect x="375.7" y="277.1" width="11.00" height="17.80" rx="4.67" ry="6.05" fill="#000"/>
<rect x="380.40" y="278.85" width="1.6" height="14.3" rx="0.80" ry="0.80" fill="#fff"/>
<text x="342.40" y="324.80" font-size="17.32" font-weight="bold" textLength="5.70" lengthAdjust="spacingAndGlyphs" fill="#000" stroke="#000" stroke-width="2.0" stroke-linejoin="round">2</text>
<rect x="350.8" y="311.4" width="7.70" height="14.40" rx="3.27" ry="4.23" fill="#000"/>
<rect x="353.90" y="313.55" width="1.5" height="10.1" rx="0.75" ry="0.75" fill="#fff"/>
<rect x="360.5" y="311.4" width="7.80" height="14.40" rx="3.32" ry="4.29" fill="#000"/>
<rect x="363.65" y="313.55" width="1.5" height="10.1" rx="0.75" ry="0.75" fill="#fff"/>
<text x="371.45" y="325.05" font-size="18.02" font-weight="bold" textLength="7.60" lengthAdjust="spacingAndGlyphs" fill="#000" stroke="#000" stroke-width="1.5" stroke-linejoin="round">3</text>
<rect x="381.7" y="321.9" width="3.4" height="3.9" rx="0.6" fill="#000"/>
<text x="387.45" y="324.95" font-size="17.88" font-weight="bold" textLength="7.20" lengthAdjust="spacingAndGlyphs" fill="#000" stroke="#000" stroke-width="1.9" stroke-linejoin="round">6</text>
<rect x="559.2" y="277.1" width="10.80" height="17.80" rx="4.59" ry="5.94" fill="#000"/>
<rect x="563.80" y="278.85" width="1.6" height="14.3" rx="0.80" ry="0.80" fill="#fff"/>
<rect x="572.7" y="277.1" width="11.00" height="17.80" rx="4.67" ry="6.05" fill="#000"/>
<rect x="577.40" y="278.85" width="1.6" height="14.3" rx="0.80" ry="0.80" fill="#fff"/>
<rect x="587.2" y="277.1" width="11.00" height="17.80" rx="4.67" ry="6.05" fill="#000"/>
<rect x="591.90" y="278.85" width="1.6" height="14.3" rx="0.80" ry="0.80" fill="#fff"/>
<text x="553.90" y="324.80" font-size="17.32" font-weight="bold" textLength="5.70" lengthAdjust="spacingAndGlyphs" fill="#000" stroke="#000" stroke-width="2.0" stroke-linejoin="round">2</text>
<rect x="562.3" y="311.4" width="7.70" height="14.40" rx="3.27" ry="4.24" fill="#000"/>
<rect x="565.40" y="313.55" width="1.5" height="10.1" rx="0.75" ry="0.75" fill="#fff"/>
<rect x="572.0" y="311.4" width="7.80" height="14.40" rx="3.31" ry="4.29" fill="#000"/>
<rect x="575.15" y="313.55" width="1.5" height="10.1" rx="0.75" ry="0.75" fill="#fff"/>
<text x="582.95" y="325.05" font-size="18.02" font-weight="bold" textLength="7.60" lengthAdjust="spacingAndGlyphs" fill="#000" stroke="#000" stroke-width="1.5" stroke-linejoin="round">3</text>
<rect x="593.2" y="321.9" width="3.4" height="3.9" rx="0.6" fill="#000"/>
<text x="598.95" y="324.95" font-size="17.88" font-weight="bold" textLength="7.20" lengthAdjust="spacingAndGlyphs" fill="#000" stroke="#000" stroke-width="1.9" stroke-linejoin="round">6</text>
<text x="69.0" y="41.5" font-size="13.2" font-weight="bold" textLength="116.5" lengthAdjust="spacingAndGlyphs" fill="#111">管道里程桩标识内容</text>
<text x="822.46" y="41.66" font-size="12.69" font-weight="normal" textLength="23.37" lengthAdjust="spacingAndGlyphs" fill="#111" stroke="#111" stroke-width="0.2" stroke-linejoin="round">单位</text>
<text x="117.86" y="181.29" font-size="13.44" font-weight="bold" textLength="55.85" lengthAdjust="spacingAndGlyphs" fill="#111" stroke="#111" stroke-width="0.15" stroke-linejoin="round">联系电话</text>
<text x="110.3" y="206.45" font-size="10.7" font-weight="bold" textLength="72.3" lengthAdjust="spacingAndGlyphs" fill="#000" stroke="#000" stroke-width="1.9" stroke-linejoin="round">400-8830-166</text>
<text x="108.9" y="226.75" font-size="12.28" font-weight="bold" textLength="75.1" lengthAdjust="spacingAndGlyphs" fill="#000" stroke="#000" stroke-width="1.9" stroke-linejoin="round">020-39916000</text>
<text x="117.54" y="274.34" font-size="13.98" font-weight="bold" textLength="58.02" lengthAdjust="spacingAndGlyphs" fill="#111" stroke="#111" stroke-width="0.15" stroke-linejoin="round">输油管道</text>
<text x="117.55" y="301.49" font-size="13.44" font-weight="bold" textLength="58.0" lengthAdjust="spacingAndGlyphs" fill="#111" stroke="#111" stroke-width="0.15" stroke-linejoin="round">敬请爱护</text>
<text x="352.34" y="221.95" font-size="13.87" font-weight="bold" textLength="31.22" lengthAdjust="spacingAndGlyphs" fill="#ff0a0a" stroke="#ff0a0a" stroke-width="0.15" stroke-linejoin="round">西南</text>
<text x="334.8" y="242.07" font-size="15.91" font-weight="bold" textLength="66.29" lengthAdjust="spacingAndGlyphs" fill="#ff0a0a" stroke="#ff0a0a" stroke-width="0.15" stroke-linejoin="round">输油管道</text>
<text x="555.34" y="221.95" font-size="13.87" font-weight="bold" textLength="49.42" lengthAdjust="spacingAndGlyphs" fill="#ff0a0a" stroke="#ff0a0a" stroke-width="0.15" stroke-linejoin="round">珠三角</text>
<text x="545.7" y="242.07" font-size="15.91" font-weight="bold" textLength="66.39" lengthAdjust="spacingAndGlyphs" fill="#ff0a0a" stroke="#ff0a0a" stroke-width="0.15" stroke-linejoin="round">输油管道</text>
<text x="762.87" y="193.88" font-size="12.47" font-weight="bold" textLength="54.36" lengthAdjust="spacingAndGlyphs" fill="#111" stroke="#111" stroke-width="0.15" stroke-linejoin="round">电位测试</text>
<text x="774.12" y="215.95" font-size="9.46" font-weight="bold" textLength="39.75" lengthAdjust="spacingAndGlyphs" fill="#222" stroke="#222" stroke-width="0.05" stroke-linejoin="round">管道电位</text>
<text x="764.22" y="298.31" font-size="9.89" font-weight="bold" textLength="46.77" lengthAdjust="spacingAndGlyphs" fill="#222" stroke="#222" stroke-width="0.05" stroke-linejoin="round">电位参考值</text>
<text x="765.3" y="318.0" font-size="10.46" font-weight="bold" textLength="44.5" lengthAdjust="spacingAndGlyphs" fill="#000" stroke="#000" stroke-width="1.0" stroke-linejoin="round">-0.85-1.2V</text>
<text x="138.3" y="434.4" font-size="28.66" font-weight="bold" textLength="14.1" lengthAdjust="spacingAndGlyphs" fill="#000">1</text>
<text x="363.3" y="437.7" font-size="29.42" font-weight="bold" textLength="14.9" lengthAdjust="spacingAndGlyphs" fill="#000">2</text>
<text x="574.5" y="437.7" font-size="29.42" font-weight="bold" textLength="14.7" lengthAdjust="spacingAndGlyphs" fill="#000">2</text>
<text x="782.75" y="442.0" font-size="29.24" font-weight="bold" textLength="13.5" lengthAdjust="spacingAndGlyphs" fill="#000">3</text>
</svg></body></html>
